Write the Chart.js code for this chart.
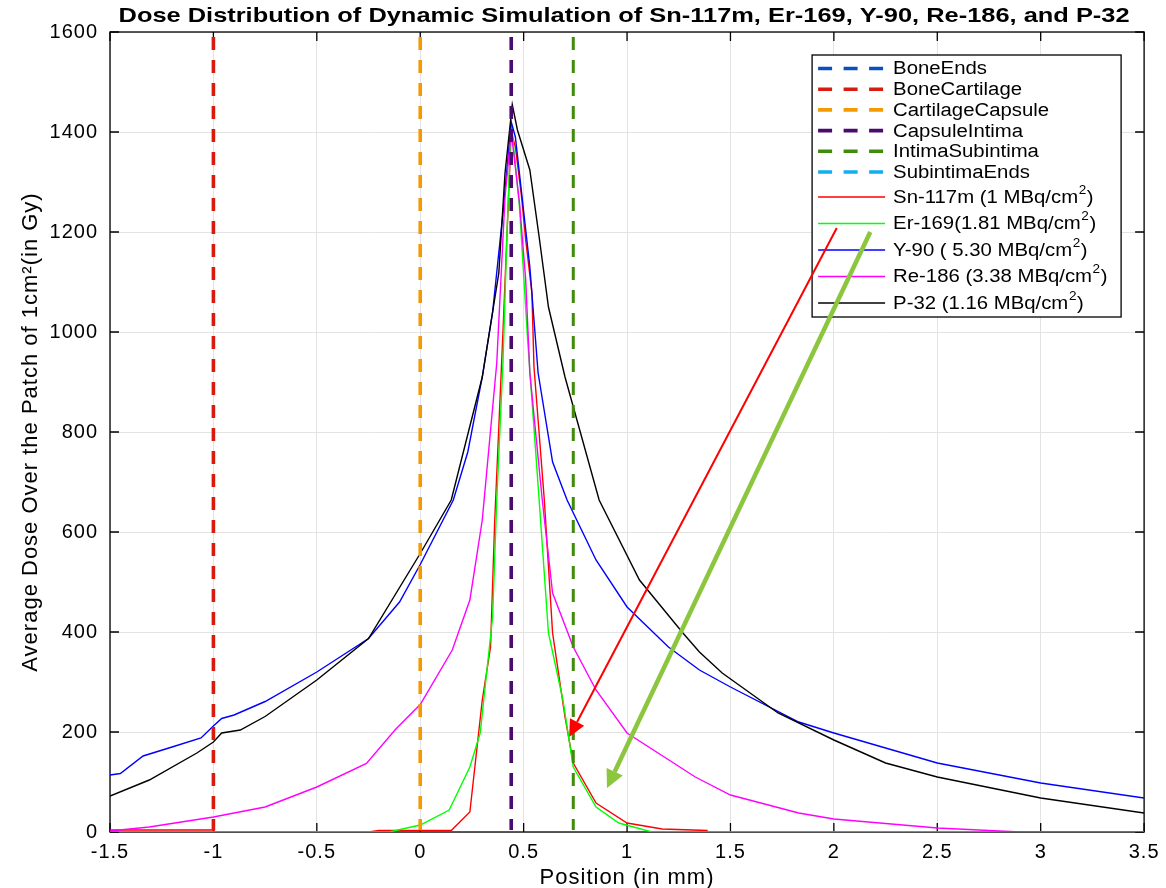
<!DOCTYPE html>
<html>
<head>
<meta charset="utf-8">
<title>Dose Distribution</title>
<script src="https://cdn.jsdelivr.net/npm/chart.js@4.4.1/dist/chart.umd.min.js"></script>
<style>
    html, body { margin: 0; padding: 0; background: #fff; }
    canvas { display: block; }
</style>
</head>
<body>
<canvas id="doseChart" width="1166" height="888"></canvas>
<script>
// ==========================================================
// 1. DATA
// ==========================================================
const FONT = '"Liberation Sans", Arial, Helvetica, sans-serif';
const TITLE = 'Dose Distribution of Dynamic Simulation of Sn-117m, Er-169, Y-90, Re-186, and P-32';

const xTicks = [-1.5, 3.5, 0.5];   // min, max, step
const yTicks = [0, 1600, 200];

// tissue boundaries (mm)
const boundaryNames  = ['BoneEnds', 'BoneCartilage', 'CartilageCapsule', 'CapsuleIntima', 'IntimaSubintima', 'SubintimaEnds'];
const boundaryPos    = [-1.5, -1.0, 0.0, 0.44, 0.74, 3.5];
const boundaryColors = ['#0a4fbf', '#d81b0c', '#f39a00', '#4a0a6e', '#3f8c0a', '#12aeef'];

// Sn-117m
const snX = [-1.5, -1.0, -0.99, -0.25, -0.2, 0.15, 0.24, 0.3, 0.34, 0.36, 0.4, 0.44, 0.46, 0.49, 0.51, 0.54, 0.55, 0.6, 0.64, 0.7, 0.74, 0.85, 1.0, 1.17, 1.39];
const snY = [4, 4, 0, 0, 3, 3, 40, 264, 370, 620, 1000, 1400, 1370, 1270, 1184, 1078, 930, 664, 398, 230, 138, 58, 18, 6, 3];

// Er-169
const erX = [-1.5, -0.15, 0.0, 0.14, 0.24, 0.29, 0.35, 0.37, 0.4, 0.42, 0.44, 0.48, 0.52, 0.575, 0.62, 0.69, 0.74, 0.85, 0.96, 1.12, 3.5];
const erY = [0, 0, 14, 44, 130, 198, 430, 664, 938, 1204, 1420, 1250, 980, 664, 398, 264, 130, 50, 18, 0, 0];

// Y-90
const yX = [-1.5, -1.45, -1.34, -1.2, -1.06, -1.0, -0.96, -0.9, -0.75, -0.5, -0.25, -0.1, 0.0, 0.16, 0.23, 0.3, 0.35, 0.4, 0.44, 0.46, 0.53, 0.57, 0.64, 0.71, 0.85, 1.0, 1.2, 1.35, 1.5, 1.83, 2.0, 2.5, 3.0, 3.5];
const yY = [114, 117, 152, 170, 188, 212, 227, 234, 261, 320, 387, 460, 535, 664, 760, 910, 1040, 1238, 1420, 1390, 1130, 918, 740, 664, 544, 450, 370, 324, 290, 220, 198, 138, 98, 68];

// Re-186
const reX = [-1.5, -1.31, -1.0, -0.75, -0.5, -0.26, -0.12, 0.0, 0.155, 0.24, 0.3, 0.37, 0.41, 0.44, 0.48, 0.51, 0.53, 0.59, 0.64, 0.74, 0.85, 1.0, 1.33, 1.5, 1.83, 2.0, 2.5, 2.9, 3.5];
const reY = [2, 10, 30, 50, 90, 137, 205, 255, 364, 464, 624, 938, 1270, 1400, 1258, 1104, 918, 664, 478, 370, 284, 198, 110, 74, 38, 26, 8, 0, 0];

// P-32
const pX = [-1.5, -1.31, -1.08, -1.0, -0.96, -0.87, -0.75, -0.5, -0.25, 0.0, 0.15, 0.3, 0.38, 0.41, 0.445, 0.47, 0.53, 0.575, 0.62, 0.7, 0.865, 1.06, 1.27, 1.35, 1.46, 1.73, 2.0, 2.25, 2.5, 3.0, 3.5];
const pY = [72, 104, 158, 180, 198, 204, 231, 304, 387, 557, 664, 910, 1118, 1318, 1455, 1404, 1324, 1190, 1050, 910, 664, 504, 398, 360, 318, 238, 184, 138, 110, 68, 38];

const seriesLabels = ['Sn-117m (1 MBq/cm²)', 'Er-169(1.81 MBq/cm²)', 'Y-90 ( 5.30 MBq/cm²)', 'Re-186 (3.38 MBq/cm²)', 'P-32 (1.16 MBq/cm²)'];
const seriesColors = ['#ff0000', '#00ff00', '#0000ff', '#ff00ff', '#000000'];

// annotation arrows: [fromX, fromY, toX, toY]
const redArrow   = [2.014, 1208, 0.72, 190];
const greenArrow = [2.176, 1200, 0.903, 88];

// ==========================================================
// 2. DATASETS
// ==========================================================
const toPoints = (xs, ys) => xs.map((x, i) => ({ x: x, y: ys[i] }));

const boundarySets = boundaryNames.map((name, i) => ({
    label: name,
    data: [{ x: boundaryPos[i], y: yTicks[0] }, { x: boundaryPos[i], y: yTicks[1] }],
    borderColor: boundaryColors[i],
    borderWidth: i === 4 ? 3 : 3.6,
    borderDash: [13, 10],
    pointRadius: 0,
    clip: -2,
    order: 0
}));

const curveXs = [snX, erX, yX, reX, pX];
const curveYs = [snY, erY, yY, reY, pY];
const curveSets = seriesLabels.map((name, i) => ({
    label: name,
    data: toPoints(curveXs[i], curveYs[i]),
    borderColor: seriesColors[i],
    borderWidth: 1.4,
    pointRadius: 0,
    tension: 0,
    order: 5 - i   // later series on top
}));

// ==========================================================
// 3. PLUGINS: spacing, frame + inward ticks, title, legend, arrows
// ==========================================================
const spacingPlugin = {
    id: 'spacing',
    beforeDraw(chart) {
        chart.ctx.letterSpacing = '1px';
    }
};

const framePlugin = {
    id: 'frame',
    beforeDatasetsDraw(chart) {
        const { ctx, chartArea: a, scales: { x, y } } = chart;
        ctx.save();
        ctx.strokeStyle = '#000';
        ctx.lineWidth = 1.3;
        ctx.strokeRect(a.left, a.top, a.right - a.left, a.bottom - a.top);
        ctx.beginPath();
        x.ticks.forEach(t => {
            const px = x.getPixelForValue(t.value);
            ctx.moveTo(px, a.bottom); ctx.lineTo(px, a.bottom - 9);
            ctx.moveTo(px, a.top);    ctx.lineTo(px, a.top + 9);
        });
        y.ticks.forEach(t => {
            const py = y.getPixelForValue(t.value);
            ctx.moveTo(a.left, py);  ctx.lineTo(a.left + 9, py);
            ctx.moveTo(a.right, py); ctx.lineTo(a.right - 9, py);
        });
        ctx.stroke();
        ctx.restore();
    }
};

// text with a raised "2" for the cm² unit, slightly widened
function drawSupText(ctx, text, x, y, size, stretch) {
    const parts = text.split('²');
    ctx.save();
    ctx.translate(x, y);
    ctx.scale(stretch, 1);
    let cx = 0;
    parts.forEach((p, i) => {
        ctx.font = `${size}px ${FONT}`;
        ctx.fillText(p, cx, 0);
        cx += ctx.measureText(p).width;
        if (i < parts.length - 1) {
            ctx.font = `${Math.round(size * 0.68)}px ${FONT}`;
            ctx.fillText('2', cx + 0.5, -size * 0.42);
            cx += ctx.measureText('2').width + 1;
        }
    });
    ctx.restore();
}

function drawArrow(ctx, x, y, spec, color, width, headLen, headHalf) {
    const x0 = x.getPixelForValue(spec[0]), y0 = y.getPixelForValue(spec[1]);
    const x1 = x.getPixelForValue(spec[2]), y1 = y.getPixelForValue(spec[3]);
    const ang = Math.atan2(y1 - y0, x1 - x0);
    const bx = x1 - headLen * Math.cos(ang), by = y1 - headLen * Math.sin(ang);
    ctx.save();
    ctx.strokeStyle = color;
    ctx.fillStyle = color;
    ctx.lineWidth = width;
    ctx.beginPath();
    ctx.moveTo(x0, y0);
    ctx.lineTo(bx, by);
    ctx.stroke();
    ctx.beginPath();
    ctx.moveTo(x1, y1);
    ctx.lineTo(bx + headHalf * Math.sin(ang), by - headHalf * Math.cos(ang));
    ctx.lineTo(bx - headHalf * Math.sin(ang), by + headHalf * Math.cos(ang));
    ctx.closePath();
    ctx.fill();
    ctx.restore();
}

const legendPlugin = {
    id: 'boxLegend',
    afterDatasetsDraw(chart) {
        const { ctx, chartArea: a, scales: { x, y } } = chart;

        // title
        ctx.save();
        ctx.letterSpacing = '0px';
        ctx.font = `bold 21px ${FONT}`;
        ctx.fillStyle = '#000';
        ctx.textAlign = 'center';
        ctx.textBaseline = 'middle';
        ctx.translate((a.left + a.right) / 2 - 3, 16);
        ctx.scale(1.21, 1);
        ctx.fillText(TITLE, 0, 0);
        ctx.restore();

        // legend box
        const w = 309, h = 262;
        const left = a.right - 332, top = a.top + 23;
        ctx.save();
        ctx.letterSpacing = '0px';
        ctx.fillStyle = '#fff';
        ctx.fillRect(left, top, w, h);
        ctx.strokeStyle = '#000';
        ctx.lineWidth = 1.3;
        ctx.strokeRect(left, top, w, h);

        ctx.textBaseline = 'middle';
        let rowY = top + 13.5;
        chart.data.datasets.forEach((ds, i) => {
            const dashed = i < boundaryNames.length;
            ctx.beginPath();
            ctx.strokeStyle = ds.borderColor;
            ctx.lineWidth = dashed ? 3.6 : 1.4;
            ctx.setLineDash(dashed ? [14, 11.5] : []);
            ctx.moveTo(left + 6, rowY);
            ctx.lineTo(left + 73, rowY);
            ctx.stroke();
            ctx.setLineDash([]);
            ctx.fillStyle = '#000';
            drawSupText(ctx, ds.label, left + 81, rowY + 1, 18, 1.13);
            if (i === boundaryNames.length - 1) rowY += 25;
            else rowY += dashed ? 20.7 : 26.5;
        });
        ctx.restore();

        drawArrow(ctx, x, y, redArrow, '#ff0000', 2, 17, 8);
        drawArrow(ctx, x, y, greenArrow, '#8cc63f', 4.5, 18, 9);
    }
};

// ==========================================================
// 4. CHART
// ==========================================================
const fmt = v => String(+v.toFixed(2));

new Chart(document.getElementById('doseChart'), {
    type: 'line',
    data: { datasets: boundarySets.concat(curveSets) },
    options: {
        responsive: false,
        animation: false,
        layout: { padding: { left: 0, right: 20, top: 32, bottom: 0 } },
        plugins: {
            legend: { display: false },
            tooltip: { enabled: false },
            title: { display: false }
        },
        scales: {
            x: {
                type: 'linear',
                min: xTicks[0], max: xTicks[1],
                afterFit: s => { s.height = 56; },
                ticks: { stepSize: xTicks[2], color: '#000', padding: 8, maxRotation: 0,
                         font: { family: FONT, size: 20 }, callback: fmt },
                grid: { color: '#e3e3e3', lineWidth: 1, drawTicks: false },
                border: { display: false },
                title: { display: true, text: 'Position (in mm)', color: '#000',
                         font: { family: FONT, size: 22, lineHeight: 1 }, padding: { top: 0, bottom: -1 } }
            },
            y: {
                type: 'linear',
                min: yTicks[0], max: yTicks[1],
                afterFit: s => { s.width = 110; },
                ticks: { stepSize: yTicks[2], color: '#000', padding: 12,
                         font: { family: FONT, size: 20 }, callback: fmt },
                grid: { color: '#e3e3e3', lineWidth: 1, drawTicks: false },
                border: { display: false },
                title: { display: true, text: 'Average Dose Over the Patch of 1cm²(in Gy)', color: '#000',
                         font: { family: FONT, size: 22, lineHeight: 1.2 }, padding: { top: 18, bottom: 0 } }
            }
        }
    },
    plugins: [spacingPlugin, framePlugin, legendPlugin]
});
</script>
</body>
</html>
